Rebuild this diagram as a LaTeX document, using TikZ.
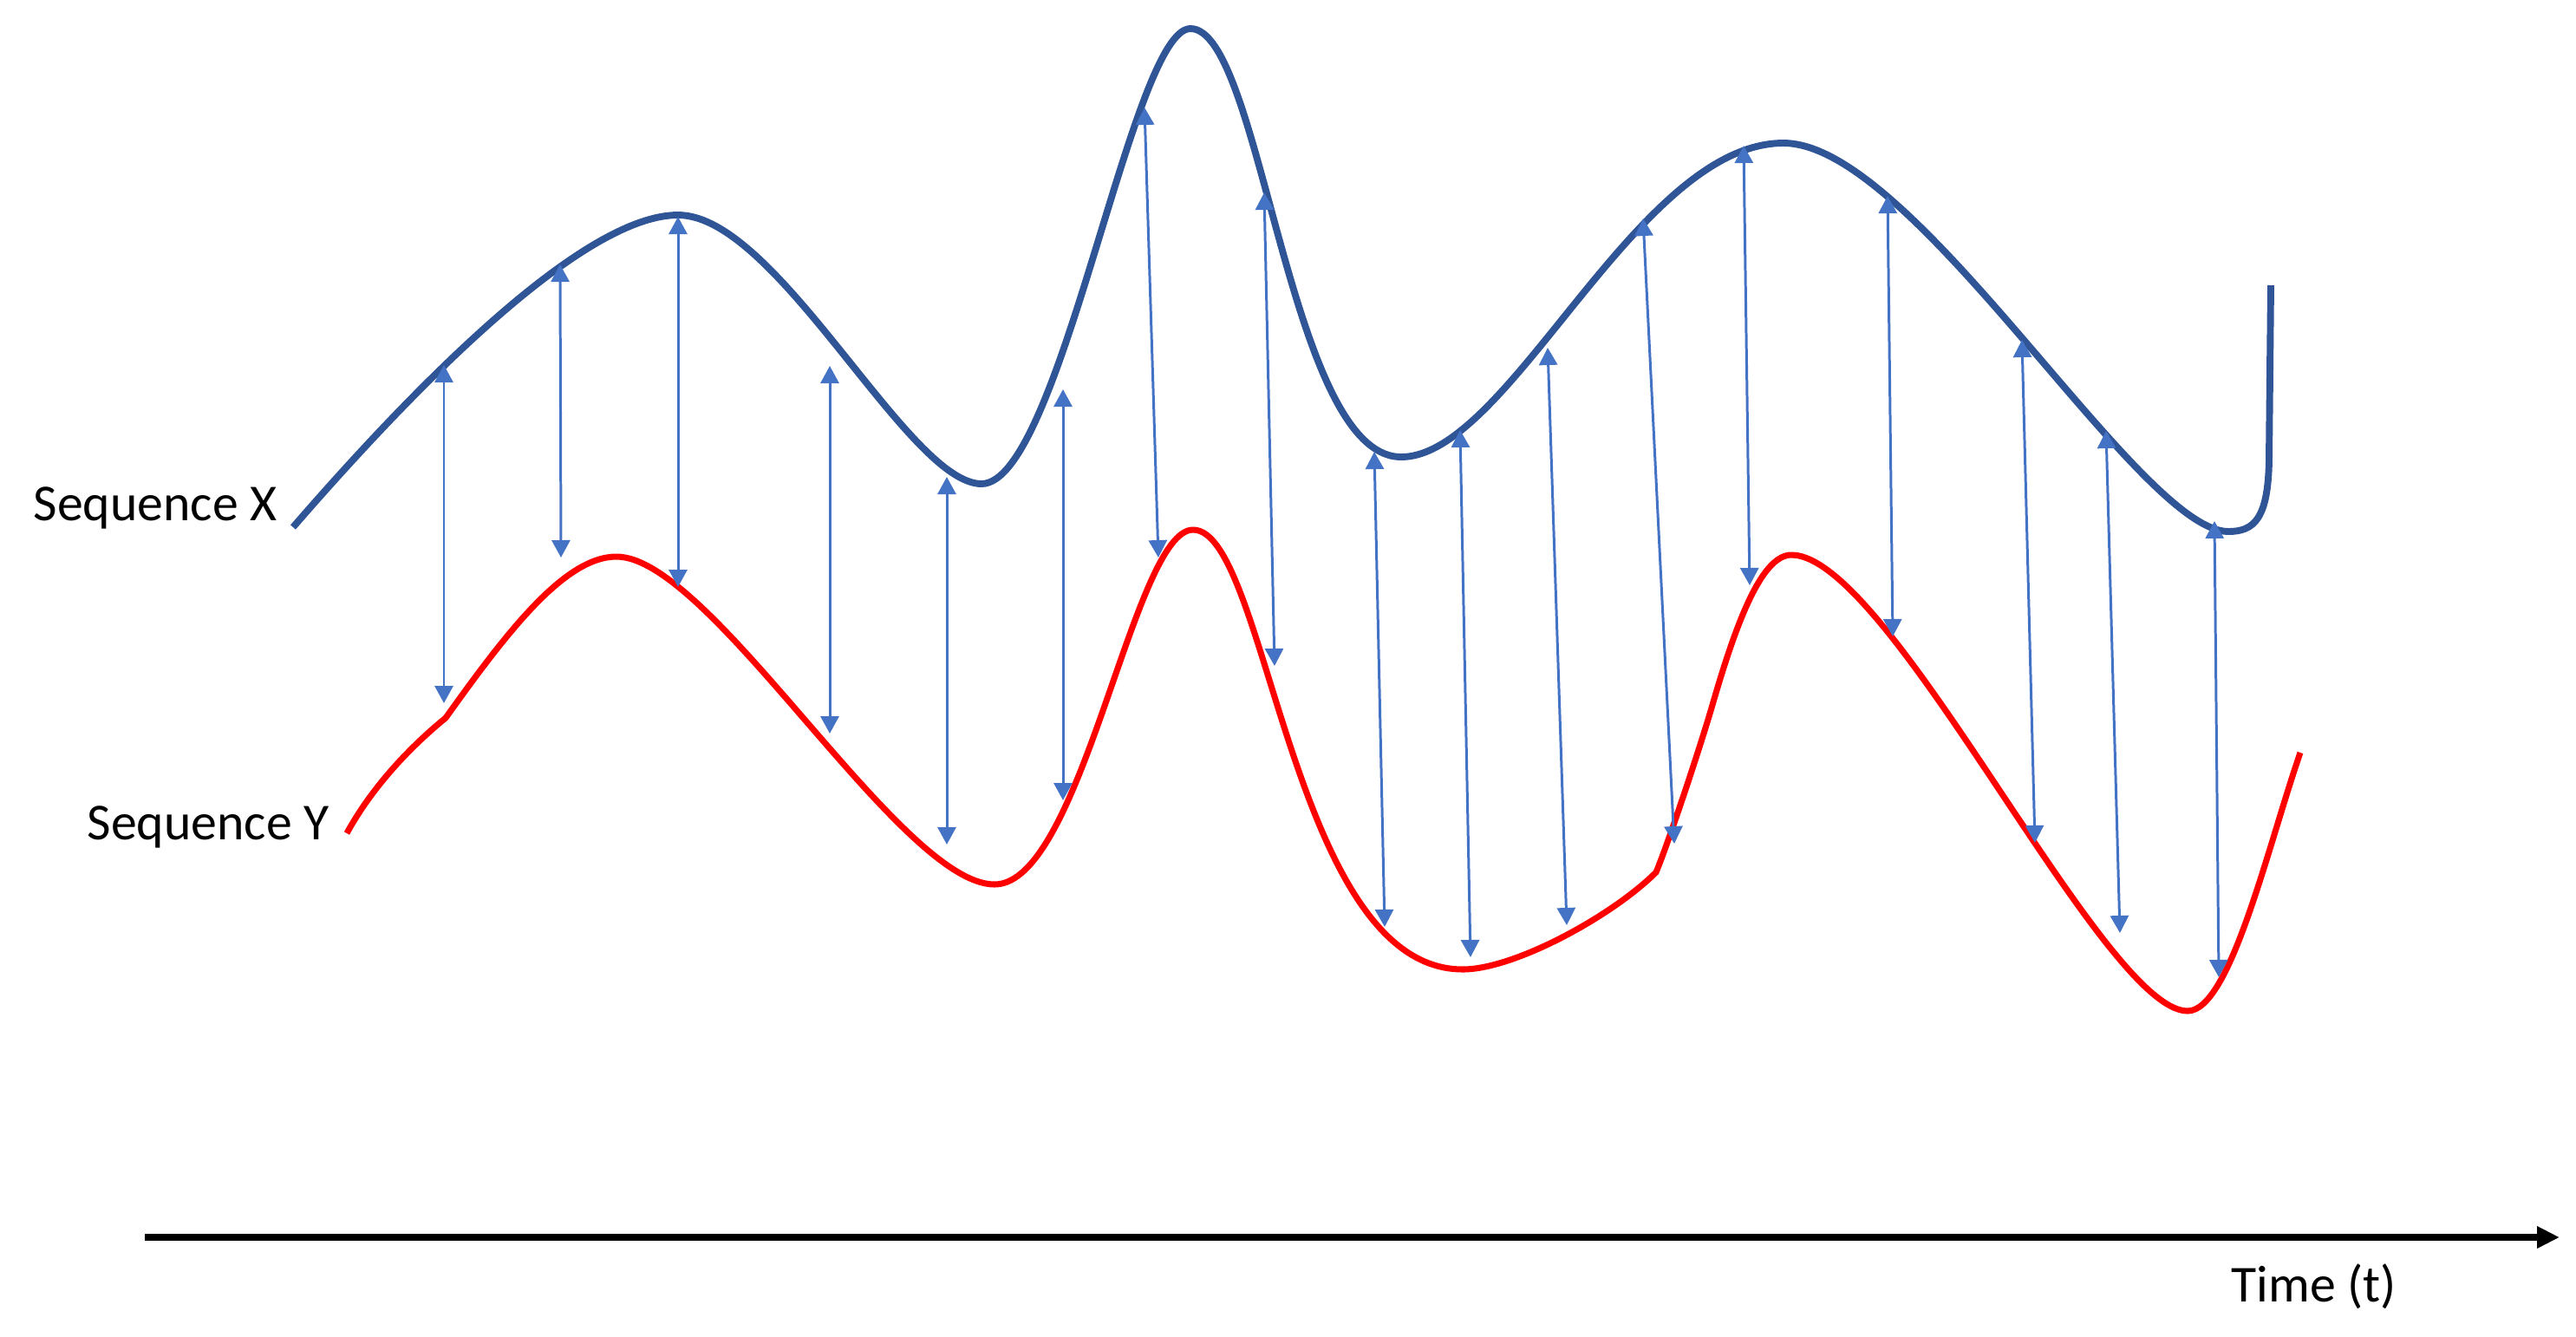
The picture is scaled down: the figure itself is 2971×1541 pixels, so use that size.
\documentclass[tikz,border=0pt]{standalone}
\usepackage{fontspec}
\setmainfont{Carlito}
\usetikzlibrary{arrows.meta}
\definecolor{seqblue}{HTML}{2F5597}
\definecolor{linkblue}{HTML}{4472C4}
\definecolor{seqred}{HTML}{FF0000}

\begin{document}
\begin{tikzpicture}[x=0.01cm, y=-0.01cm,
        seqx/.style={draw=seqblue, line width=2.25pt, line join=round},
        seqy/.style={draw=seqred, line width=2pt, line join=round},
        link/.style={draw=linkblue, line width=0.85pt, {Triangle[length=0.2cm, width=0.21cm]}-{Triangle[length=0.2cm, width=0.21cm]}},
        timeline/.style={draw=black, line width=2.3pt, -{Triangle[length=0.26cm, width=0.24cm]}},
        lbl/.style={inner sep=0pt, font=\fontsize{17}{20}\selectfont}]
    \useasboundingbox (0,0) rectangle (2971,1541);

    \draw[seqx] (338,608) .. controls (508,412) and (682,248) .. (782,248)
        .. controls (897,248) and (1047,558) .. (1132,558)
        .. controls (1223,558) and (1305,33) .. (1373,33)
        .. controls (1455,33) and (1486,527) .. (1616,527)
        .. controls (1741,527) and (1887,165) .. (2057,165)
        .. controls (2208,165) and (2467,613) .. (2570,613)
        .. controls (2600,613) and (2616,598) .. (2617,530)
        -- (2619,329);

    \draw[seqy] (400,961) .. controls (425,915) and (465,868) .. (514,828)
        .. controls (584,730) and (651,642) .. (711,642)
        .. controls (820,642) and (1038,1020) .. (1147,1020)
        .. controls (1248,1020) and (1307,611) .. (1376,611)
        .. controls (1462,611) and (1489,1118) .. (1687,1118)
        .. controls (1747,1118) and (1860,1056) .. (1910,1006)
        .. controls (1925,970) and (1962,858) .. (1975,813)
        .. controls (2000,727) and (2030,640) .. (2066,640)
        .. controls (2180,640) and (2425,1166) .. (2523,1166)
        .. controls (2572,1166) and (2615,978) .. (2653,868);

    \foreach \i/\xa/\ya/\xb/\yb in {
        1/512/421/512/811, 2/646/305/647/643, 3/782/250/782/677, 4/957/422/957/846,
        5/1092/550/1092/974, 6/1226/449/1226/923, 7/1320/124/1336/643, 8/1458/222/1470/768,
        9/1585/521/1597/1069, 10/1684/496/1696/1104, 11/1785/401/1807/1067, 12/1895/252/1931/973,
        13/2011/168/2018/675, 14/2177/226/2183/734, 15/2332/392/2347/972, 16/2429/497/2445/1076,
        17/2554/601/2559/1127} {
        \coordinate (x\i) at (\xa,\ya);
        \coordinate (y\i) at (\xb,\yb);
        \draw[link] (x\i) -- (y\i);
    }

    \coordinate (t0) at (167,1427);
    \coordinate (t1) at (2952,1427);
    \draw[timeline] (t0) -- (t1);

    \node[lbl, anchor=base west] (labelx) at (38,600) {Sequence X};
    \node[lbl, anchor=base west] (labely) at (100,968) {Sequence Y};
    \node[lbl, anchor=base west] (labelt) at (2573,1501) {Time (t)};
\end{tikzpicture}
\end{document}
